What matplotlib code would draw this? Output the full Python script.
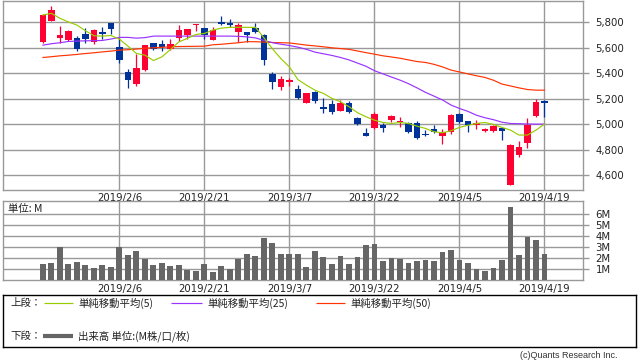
import matplotlib
matplotlib.use("Agg")
import matplotlib.pyplot as plt
import numpy as np

# ---------------- data ----------------
dates = ["1/24", "1/25", "1/28", "1/29", "1/30", "1/31", "2/1", "2/4", "2/5", "2/6",
         "2/7", "2/8", "2/12", "2/13", "2/14", "2/15", "2/18", "2/19", "2/20", "2/21",
         "2/22", "2/25", "2/26", "2/27", "2/28", "3/1", "3/4", "3/5", "3/6", "3/7",
         "3/8", "3/11", "3/12", "3/13", "3/14", "3/15", "3/18", "3/19", "3/20", "3/22",
         "3/25", "3/26", "3/27", "3/28", "3/29", "4/1", "4/2", "4/3", "4/4", "4/5",
         "4/8", "4/9", "4/10", "4/11", "4/12", "4/15", "4/16", "4/17", "4/18", "4/19"]

opens = [5645, 5813, 5679, 5661, 5676, 5711, 5645, 5724, 5795, 5605,
         5408, 5316, 5424, 5637, 5629, 5587, 5679, 5700, 5776, 5753,
         5661, 5803, 5795, 5726, 5726, 5755, 5698, 5397, 5293, 5332,
         5280, 5168, 5249, 5135, 5158, 5103, 5168, 5051, 4933, 4971,
         4995, 5031, 5013, 5005, 5008, 4925, 4961, 4909, 4938, 5078,
         5023, 4997, 4948, 4945, 4966, 4524, 4758, 4855, 5062, 5180]
highs = [5862, 5932, 5771, 5740, 5692, 5755, 5747, 5761, 5797, 5674,
         5432, 5555, 5626, 5640, 5658, 5666, 5779, 5750, 5787, 5755,
         5761, 5850, 5824, 5792, 5728, 5795, 5710, 5410, 5376, 5363,
         5306, 5246, 5259, 5202, 5187, 5189, 5181, 5055, 4966, 5094,
         5010, 5070, 5055, 5013, 5023, 4953, 4992, 4961, 5078, 5086,
         5025, 5036, 4971, 4990, 4970, 4844, 4867, 5045, 5200, 5193]
lows = [5640, 5810, 5634, 5653, 5574, 5640, 5629, 5669, 5711, 5482,
        5285, 5298, 5416, 5585, 5576, 5582, 5655, 5671, 5732, 5671,
        5658, 5779, 5766, 5647, 5647, 5720, 5465, 5278, 5267, 5298,
        5194, 5166, 5168, 5085, 5080, 5100, 5090, 4994, 4903, 4965,
        4940, 5016, 4979, 4932, 4886, 4909, 4932, 4847, 4925, 5010,
        4940, 4961, 4938, 4940, 4875, 4519, 4745, 4815, 5057, 5057]
closes = [5858, 5897, 5703, 5732, 5587, 5671, 5740, 5708, 5747, 5503,
          5345, 5440, 5624, 5587, 5605, 5629, 5740, 5747, 5781, 5700,
          5740, 5787, 5779, 5779, 5703, 5724, 5502, 5332, 5358, 5345,
          5207, 5244, 5184, 5119, 5098, 5163, 5093, 5002, 4909, 5078,
          4971, 5062, 5023, 4938, 4893, 4917, 4938, 4940, 5073, 5016,
          4993, 5010, 4964, 4984, 4948, 4836, 4821, 4995, 5170, 5168]

volumes_m = [1.48, 1.58, 2.97, 1.48, 1.67, 1.39, 1.12, 1.39, 1.21, 3.03,
             2.30, 2.67, 1.94, 1.39, 1.58, 1.30, 1.39, 0.94, 0.85, 1.48,
             0.76, 1.30, 1.03, 1.94, 2.39, 2.21, 3.85, 3.39, 2.39, 2.39,
             2.39, 1.21, 2.67, 2.12, 1.48, 2.21, 1.48, 2.12, 3.21, 3.30,
             1.76, 2.03, 1.94, 1.58, 1.76, 1.85, 1.76, 2.58, 2.76, 1.85,
             1.58, 1.03, 0.85, 1.12, 1.85, 6.67, 2.30, 3.94, 3.67, 2.39]

ma5 = [5858, 5871, 5832, 5803, 5779, 5734, 5695, 5692, 5697, 5668,
       5613, 5555, 5542, 5500, 5529, 5587, 5647, 5674, 5705, 5713,
       5740, 5755, 5761, 5761, 5761, 5761, 5678, 5592, 5514, 5449,
       5350, 5306, 5267, 5241, 5202, 5176, 5137, 5090, 5058, 5031,
       5013, 5005, 5013, 5005, 4984, 4966, 4940, 4932, 4948, 4974,
       4991, 5005, 5013, 4997, 4974, 4953, 4914, 4914, 4953, 5000]
ma25 = [5621, 5632, 5640, 5650, 5653, 5655, 5656, 5658, 5669, 5682,
        5682, 5676, 5680, 5692, 5692, 5692, 5692, 5692, 5692, 5692,
        5692, 5692, 5692, 5690, 5686, 5678, 5658, 5640, 5628, 5618,
        5605, 5588, 5566, 5553, 5540, 5524, 5505, 5480, 5455, 5420,
        5395, 5370, 5346, 5318, 5285, 5250, 5220, 5190, 5150, 5123,
        5100, 5070, 5050, 5035, 5015, 5005, 5003, 5001, 5000, 5000]
ma50 = [5524, 5530, 5537, 5542, 5548, 5555, 5561, 5568, 5574, 5582,
        5585, 5590, 5597, 5600, 5604, 5608, 5610, 5611, 5612, 5613,
        5624, 5628, 5634, 5640, 5648, 5648, 5645, 5642, 5640, 5638,
        5630, 5621, 5615, 5608, 5600, 5594, 5588, 5575, 5562, 5550,
        5537, 5528, 5518, 5505, 5492, 5485, 5470, 5450, 5425, 5410,
        5395, 5380, 5367, 5345, 5315, 5300, 5285, 5272, 5267, 5267]

date_tick_labels = ["2019/2/6", "2019/2/21", "2019/3/7", "2019/3/22", "2019/4/5", "2019/4/19"]
price_ticks = [4600, 4800, 5000, 5200, 5400, 5600, 5800]
price_tick_labels = ["4,600", "4,800", "5,000", "5,200", "5,400", "5,600", "5,800"]
vol_ticks = [1, 2, 3, 4, 5, 6]
vol_tick_labels = ["1M", "2M", "3M", "4M", "5M", "6M"]

# ---------------- style ----------------
UP = "#FF0033"
DOWN = "#003399"
C_MA5 = "#99CC00"
C_MA25 = "#9933FF"
C_MA50 = "#FF3300"
GRID = "#999999"
VOL = "#666666"
JP = ["Noto Sans CJK JP", "DejaVu Sans"]

W, H = 638, 362
fig = plt.figure(figsize=(W / 100, H / 100), dpi=100)
fig.patch.set_facecolor("white")


def rect(x0, y0, x1, y1):
    return [x0 / W, 1 - y1 / H, (x1 - x0) / W, (y1 - y0) / H]


n = len(dates)
x = np.arange(n)
tick_pos = [dates.index(lbl.split("2019/")[1]) for lbl in date_tick_labels]
XMIN, XMAX = -4.7, 63.53

# ---------------- price panel ----------------
ax = fig.add_axes(rect(3, 0.5, 583, 190))
o = np.array(opens, float)
c = np.array(closes, float)
h = np.array(highs, float)
l = np.array(lows, float)
colors = [UP if cc >= oo else DOWN for oo, cc in zip(o, c)]
ax.vlines(x, l, h, colors=colors, lw=0.9, zorder=3)
body_lo = np.minimum(o, c)
body_h = np.maximum(np.abs(c - o), 9)
ax.bar(x, body_h, bottom=body_lo, width=0.72, color=colors, lw=0, zorder=4)
ax.plot(x, ma50, color=C_MA50, lw=0.85, zorder=5)
ax.plot(x, ma25, color=C_MA25, lw=0.85, zorder=5)
ax.plot(x, ma5, color=C_MA5, lw=0.85, zorder=6)

ax.set_xlim(XMIN, XMAX)
ax.set_ylim(4482, 5972)
ax.set_yticks(price_ticks)
ax.set_yticklabels(price_tick_labels)
ax.yaxis.tick_right()
ax.set_xticks(tick_pos)
ax.set_xticklabels(date_tick_labels)
ax.tick_params(axis="y", length=4, width=1, color=GRID, pad=5, labelsize=7.3, labelcolor="#222222")
ax.tick_params(axis="x", length=0, pad=2, labelsize=7.3, labelcolor="#222222")
ax.grid(True, color=GRID, lw=1)
ax.set_axisbelow(True)
for s in ax.spines.values():
    s.set_color(GRID)
    s.set_linewidth(1)

# ---------------- volume panel ----------------
axv = fig.add_axes(rect(3, 201, 583, 280))
axv.bar(x, volumes_m, width=0.7, color=VOL, lw=0, zorder=3)
axv.set_xlim(XMIN, XMAX)
axv.set_ylim(0, 7.18)
axv.set_yticks(vol_ticks)
axv.set_yticklabels(vol_tick_labels)
axv.yaxis.tick_right()
axv.set_xticks(tick_pos)
axv.set_xticklabels(date_tick_labels)
axv.tick_params(axis="y", length=4, width=1, color=GRID, pad=5, labelsize=7.3, labelcolor="#222222")
axv.tick_params(axis="x", length=0, pad=3, labelsize=7.3, labelcolor="#222222")
axv.grid(True, color=GRID, lw=1)
axv.set_axisbelow(True)
for s in axv.spines.values():
    s.set_color(GRID)
    s.set_linewidth(1)
axv.text(0.008, 0.9, "単位: M", transform=axv.transAxes, family=JP, fontsize=7.5,
         va="center", ha="left", color="#222222")

# ---------------- legend box ----------------
axl = fig.add_axes(rect(3, 295, 636, 347))
axl.set_xlim(3, 636)
axl.set_ylim(347, 295)
axl.set_xticks([])
axl.set_yticks([])
for s in axl.spines.values():
    s.set_color("black")
    s.set_linewidth(1)

legend_rows = [
    ("上段：", 303, [(44, 73, C_MA5, 0.85, "単純移動平均(5)"),
                    (171, 202, C_MA25, 0.85, "単純移動平均(25)"),
                    (316, 345, C_MA50, 0.85, "単純移動平均(50)")]),
    ("下段：", 336, [(43, 73, VOL, 3.0, "出来高 単位:(M株/口/枚)")]),
]
for head, yy, items in legend_rows:
    axl.text(10, yy, head, family=JP, fontsize=7.5, va="center", ha="left", color="#222222")
    for xa, xb, col, lw, lbl in items:
        axl.plot([xa, xb], [yy, yy], color=col, lw=lw, solid_capstyle="butt")
        axl.text(xb + 5, yy, lbl, family=JP, fontsize=7.5, va="center", ha="left", color="#222222")

fig.text(617 / W, 1 - 355 / H, "(c)Quants Research Inc.", family=["Liberation Sans"],
         fontsize=6.5, ha="right", va="center", color="#333333")

fig.savefig("out.png", dpi=100, facecolor="white")
